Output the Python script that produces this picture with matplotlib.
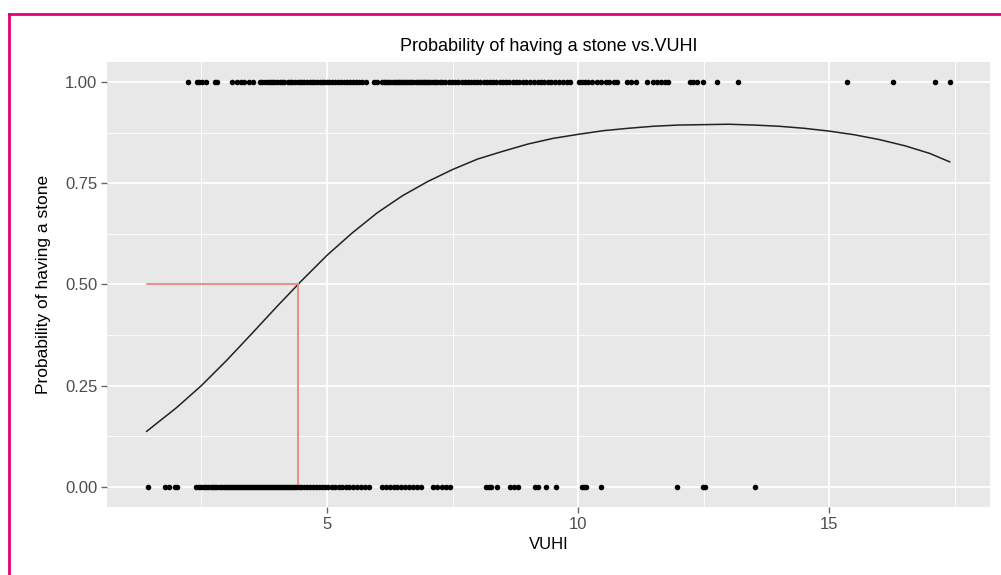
import numpy as np
import matplotlib.pyplot as plt
from matplotlib.ticker import MultipleLocator
from matplotlib.lines import Line2D

plt.rcParams['font.family'] = ['Liberation Sans', 'DejaVu Sans']

# fitted probability curve
curve_x = [1.41, 2.0, 2.5, 3.0, 3.5, 4.0, 4.5, 5.0, 5.5, 6.0, 6.5, 7.0, 7.5, 8.0,
           8.5, 9.0, 9.5, 10.0, 10.5, 11.0, 11.5, 12.0, 12.5, 13.0, 13.5, 14.0,
           14.5, 15.0, 15.5, 16.0, 16.5, 17.0, 17.4]
curve_p = [0.137, 0.195, 0.25, 0.312, 0.378, 0.445, 0.51, 0.572, 0.627, 0.677,
           0.719, 0.754, 0.784, 0.81, 0.829, 0.847, 0.861, 0.871, 0.88, 0.886,
           0.891, 0.894, 0.895, 0.896, 0.894, 0.891, 0.886, 0.879, 0.87, 0.858,
           0.843, 0.824, 0.803]

# observed VUHI values, stone = 1
stone_x = [2.24, 2.41, 2.46, 2.52, 2.60, 2.77, 2.82, 3.10, 3.21, 3.29, 3.35, 3.44, 3.52,
           3.67, 3.71, 3.76, 3.82, 3.86, 3.91, 3.95, 4.01, 4.06, 4.10, 4.15, 4.22, 4.26,
           4.31, 4.37, 4.42, 4.46, 4.51, 4.55, 4.60, 4.66, 4.71, 4.75, 4.80, 4.86, 4.91,
           4.95, 5.00, 5.05, 5.11, 5.16, 5.21, 5.27, 5.33, 5.40, 5.45, 5.52, 5.58, 5.63,
           5.70, 5.78, 5.93, 6.00, 6.10, 6.14, 6.18, 6.22, 6.26, 6.31, 6.35, 6.40, 6.44,
           6.48, 6.52, 6.56, 6.60, 6.64, 6.68, 6.72, 6.77, 6.81, 6.85, 6.90, 6.94, 6.98,
           7.02, 7.06, 7.11, 7.15, 7.20, 7.25, 7.30, 7.36, 7.42, 7.48, 7.55, 7.61, 7.68,
           7.74, 7.80, 7.86, 7.92, 7.98, 8.05, 8.12, 8.18, 8.25, 8.31, 8.37, 8.44, 8.50,
           8.57, 8.63, 8.70, 8.76, 8.82, 8.90, 8.97, 9.05, 9.12, 9.20, 9.26, 9.33, 9.40,
           9.47, 9.55, 9.62, 9.70, 9.78, 9.84, 10.02, 10.08, 10.14, 10.20, 10.28, 10.38,
           10.46, 10.55, 10.62, 10.72, 10.78, 10.98, 11.05, 11.16, 11.37, 11.50, 11.58,
           11.66, 11.74, 11.80, 12.22, 12.28, 12.36, 12.49, 12.77, 13.19, 15.36, 16.28,
           17.11, 17.41]

# observed VUHI values, stone = 0
nostone_x = [1.44, 1.77, 1.85, 1.97, 2.02, 2.40, 2.45, 2.50, 2.55, 2.60, 2.64, 2.69, 2.73,
             2.78, 2.82, 2.87, 2.91, 2.95, 2.99, 3.03, 3.07, 3.11, 3.15, 3.19, 3.23, 3.27,
             3.31, 3.35, 3.39, 3.43, 3.47, 3.51, 3.55, 3.59, 3.63, 3.67, 3.71, 3.75, 3.79,
             3.83, 3.87, 3.91, 3.95, 3.99, 4.03, 4.07, 4.11, 4.15, 4.19, 4.23, 4.27, 4.31,
             4.35, 4.39, 4.44, 4.49, 4.55, 4.61, 4.67, 4.72, 4.78, 4.84, 4.90, 4.97, 5.03,
             5.10, 5.16, 5.23, 5.30, 5.37, 5.44, 5.52, 5.60, 5.68, 5.76, 5.84, 6.10, 6.18,
             6.25, 6.33, 6.40, 6.48, 6.56, 6.63, 6.72, 6.80, 6.88, 7.12, 7.20, 7.30, 7.38,
             7.45, 8.17, 8.22, 8.27, 8.39, 8.65, 8.72, 8.80, 9.14, 9.20, 9.37, 9.57, 10.07,
             10.11, 10.16, 10.46, 11.97, 12.48, 12.52, 13.53]

# VUHI where probability = 0.5
cut_x = 4.43
cut_p = 0.5

fig = plt.figure(figsize=(10.01, 5.75), dpi=100)
ax = fig.add_axes([0.1069, 0.1183, 0.882, 0.774])
ax.set_facecolor('#E8E8E8')

ax.xaxis.set_major_locator(MultipleLocator(5))
ax.xaxis.set_minor_locator(MultipleLocator(2.5))
ax.yaxis.set_major_locator(MultipleLocator(0.25))
ax.yaxis.set_minor_locator(MultipleLocator(0.125))
ax.grid(which='major', color='white', linewidth=1.3)
ax.grid(which='minor', color='white', linewidth=0.6)
ax.set_axisbelow(True)
for s in ax.spines.values():
    s.set_visible(False)

ax.scatter(stone_x, np.ones(len(stone_x)), s=16, color='black', zorder=3, linewidths=0)
ax.scatter(nostone_x, np.zeros(len(nostone_x)), s=16, color='black', zorder=3, linewidths=0)
ax.plot(curve_x, curve_p, color='#222222', linewidth=1.1, zorder=2)

ax.plot([curve_x[0], cut_x], [cut_p, cut_p], color='#E8867E', linewidth=1.3, zorder=2)
ax.plot([cut_x, cut_x], [cut_p, 0], color='#E8867E', linewidth=1.3, zorder=2)

ax.set_xlim(0.62, 18.2)
ax.set_ylim(-0.05, 1.05)
ax.set_yticks([0, 0.25, 0.5, 0.75, 1.0])
ax.set_yticklabels(['0.00', '0.25', '0.50', '0.75', '1.00'])
ax.set_xticks([5, 10, 15])
ax.tick_params(which='major', length=4, width=1, color='#666666', labelcolor='#4D4D4D',
               labelsize=12, pad=3)
ax.tick_params(which='minor', length=0)

ax.set_title('Probability of having a stone vs.VUHI', fontsize=13, pad=8)
ax.set_xlabel('VUHI', fontsize=12, labelpad=4)
ax.set_ylabel('Probability of having a stone', fontsize=12.5, labelpad=10)

# magenta frame from the source page
fig.add_artist(Line2D([0.009, 0.009], [0, 0.976], transform=fig.transFigure,
                      color='#E2007A', linewidth=2))
fig.add_artist(Line2D([0.009, 1.0], [0.976, 0.976], transform=fig.transFigure,
                      color='#E2007A', linewidth=2))

fig.savefig('out.png', dpi=100)
